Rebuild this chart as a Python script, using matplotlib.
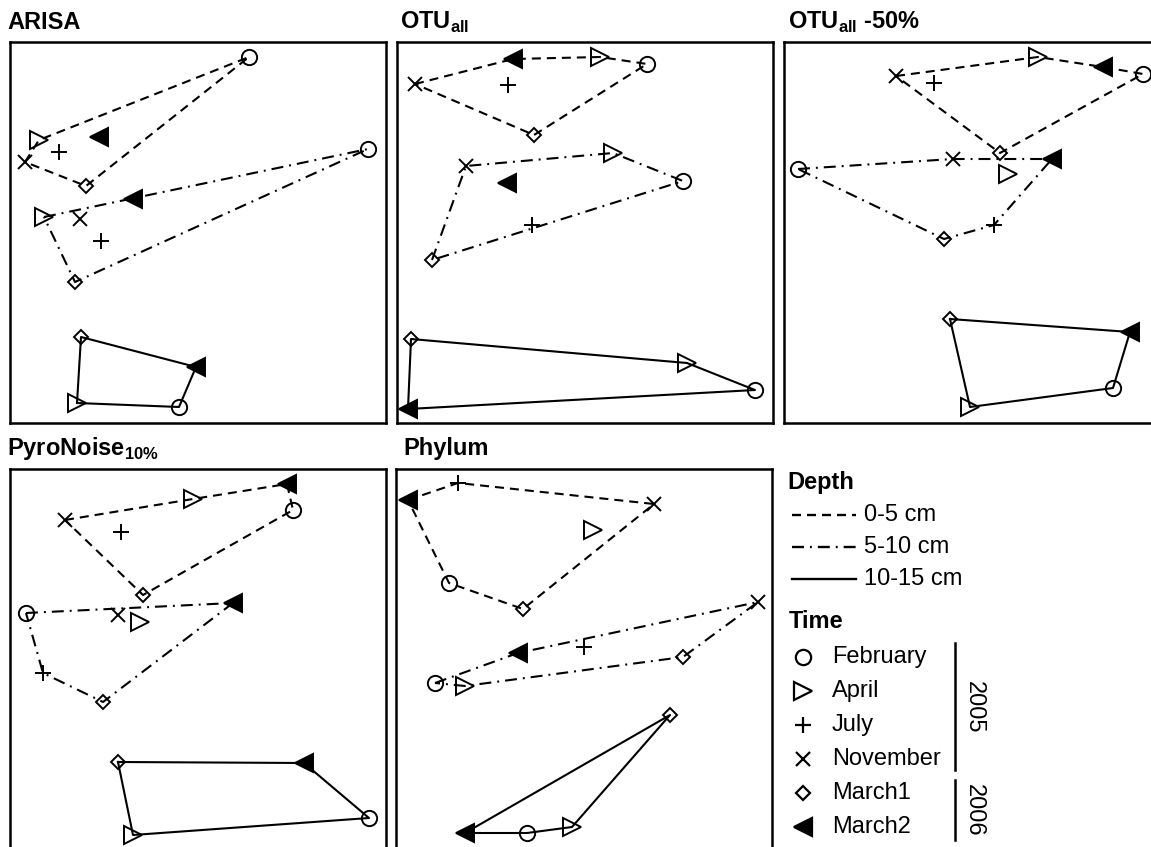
import numpy as np
import matplotlib
matplotlib.use('Agg')
import matplotlib.pyplot as plt

plt.rcParams['font.family'] = ['Liberation Sans', 'DejaVu Sans']
plt.rcParams['mathtext.fontset'] = 'custom'
plt.rcParams['mathtext.rm'] = 'Liberation Sans'
plt.rcParams['mathtext.bf'] = 'Liberation Sans:bold'
plt.rcParams['lines.scale_dashes'] = False

# sampling times, in plotting order
months = ['February', 'April', 'July', 'November', 'March1', 'March2']
nan = np.nan

# ordination scores (x right, y down, panel units)
# depth 0-5 cm (d1), 5-10 cm (d2), 10-15 cm (d3)
arisa_d1_x = [239, 29, 49, 15, 76, 89]
arisa_d1_y = [15, 98, 110, 120, 144, 95]
arisa_d2_x = [358, 34, 91, 70, 65, 123]
arisa_d2_y = [107, 175, 199, 177, 240, 157]
arisa_d3_x = [169, 67, nan, nan, 71, 186]
arisa_d3_y = [365, 361, nan, nan, 295, 325]

otu_d1_x = [250, 203, 111, 18, 137, 116]
otu_d1_y = [22, 15, 43, 42, 93, 17]
otu_d2_x = [286, 216, 135, 69, 35, 110]
otu_d2_y = [139, 111, 183, 124, 218, 141]
otu_d3_x = [358, 290, nan, nan, 14, 11]
otu_d3_y = [348, 321, nan, nan, 297, 367]

otu50_d1_x = [359, 254, 150, 112, 216, 319]
otu50_d1_y = [32, 15, 41, 34, 111, 25]
otu50_d2_x = [14, 224, 210, 169, 160, 268]
otu50_d2_y = [127, 132, 183, 117, 197, 117]
otu50_d3_x = [329, 186, nan, nan, 166, 346]
otu50_d3_y = [346, 365, nan, nan, 277, 290]

pyro_d1_x = [283, 183, 111, 55, 133, 277]
pyro_d1_y = [41, 30, 63, 51, 126, 15]
pyro_d2_x = [16, 130, 33, 108, 93, 223]
pyro_d2_y = [144, 153, 204, 146, 233, 134]
pyro_d3_x = [359, 123, nan, nan, 108, 294]
pyro_d3_y = [349, 366, nan, nan, 293, 294]

phylum_d1_x = [53, 197, 62, 258, 127, 12]
phylum_d1_y = [114, 61, 14, 35, 140, 31]
phylum_d2_x = [39, 69, 188, 362, 287, 122]
phylum_d2_y = [214, 217, 178, 133, 188, 184]
phylum_d3_x = [131, 176, nan, nan, 274, 69]
phylum_d3_y = [364, 358, nan, nan, 246, 364]

W, H = 1151, 847
PW, PH = 376, 381

# marker style per month
mstyle = {
    'February': dict(marker='o', ms=11, mfc='none'),
    'April': dict(marker='>', ms=12.5, mfc='none'),
    'July': dict(marker='+', ms=12, mfc='none'),
    'November': dict(marker='x', ms=10.5, mfc='none'),
    'March1': dict(marker='D', ms=7.5, mfc='none'),
    'March2': dict(marker='<', ms=12.5, mfc='black'),
}
dashed = (0, (6.5, 4.3))
dashdot = (0, (8.6, 4.3, 1.4, 4.3))
depth_ls = [dashed, dashdot, '-']


def hull(px, py):
    # convex hull around the points of one depth
    pts = sorted(set((a, b) for a, b in zip(px, py) if not (np.isnan(a) or np.isnan(b))))
    def cross(o, a, b):
        return (a[0]-o[0])*(b[1]-o[1]) - (a[1]-o[1])*(b[0]-o[0])
    lower, upper = [], []
    for p in pts:
        while len(lower) >= 2 and cross(lower[-2], lower[-1], p) <= 0:
            lower.pop()
        lower.append(p)
    for p in reversed(pts):
        while len(upper) >= 2 and cross(upper[-2], upper[-1], p) <= 0:
            upper.pop()
        upper.append(p)
    h = lower[:-1] + upper[:-1]
    h.append(h[0])
    return [p[0] for p in h], [p[1] for p in h]


panels = [
    ('ARISA', 10, 42, [(arisa_d1_x, arisa_d1_y), (arisa_d2_x, arisa_d2_y), (arisa_d3_x, arisa_d3_y)]),
    (r'$\mathbf{OTU}_{\mathbf{all}}$', 397, 42, [(otu_d1_x, otu_d1_y), (otu_d2_x, otu_d2_y), (otu_d3_x, otu_d3_y)]),
    (r'$\mathbf{OTU}_{\mathbf{all}}$ -50%', 784, 42, [(otu50_d1_x, otu50_d1_y), (otu50_d2_x, otu50_d2_y), (otu50_d3_x, otu50_d3_y)]),
    (r'$\mathbf{PyroNoise}_{\mathbf{10\%}}$', 10, 469, [(pyro_d1_x, pyro_d1_y), (pyro_d2_x, pyro_d2_y), (pyro_d3_x, pyro_d3_y)]),
    ('Phylum', 396, 469, [(phylum_d1_x, phylum_d1_y), (phylum_d2_x, phylum_d2_y), (phylum_d3_x, phylum_d3_y)]),
]
title_pos = [(7, 29), (400, 29), (788, 29), (7, 455), (403, 455)]

fig = plt.figure(figsize=(W/100, H/100), dpi=100)

for (title, x0, y0, depths), (tx, ty) in zip(panels, title_pos):
    ax = fig.add_axes([x0/W, 1-(y0+PH)/H, PW/W, PH/H])
    ax.set_xlim(0, PW)
    ax.set_ylim(PH, 0)
    ax.set_xticks([])
    ax.set_yticks([])
    for s in ax.spines.values():
        s.set_linewidth(1.8)
    for (dx, dy), ls in zip(depths, depth_ls):
        hx, hy = hull(dx, dy)
        ax.plot(hx, hy, color='black', lw=1.5, ls=ls, zorder=2)
        for m, a, b in zip(months, dx, dy):
            if np.isnan(a):
                continue
            ax.plot(a, b, color='black', mec='black', mew=1.4, ls='none', zorder=3, clip_on=False, **mstyle[m])
    fig.text(tx/W, 1-ty/H, title, fontsize=17, fontweight='bold', va='baseline', ha='left')

# legend panel
lg = fig.add_axes([0, 0, 1, 1])
lg.set_xlim(0, W)
lg.set_ylim(H, 0)
lg.axis('off')
lg.text(787, 483, 'Depth', fontsize=17, fontweight='bold', va='center')
depth_labels = ['0-5 cm', '5-10 cm', '10-15 cm']
for i, (lab, ls) in enumerate(zip(depth_labels, depth_ls)):
    yy = 515 + i*32
    lg.plot([792, 856], [yy, yy], color='black', lw=1.7, ls=ls)
    lg.text(864, yy, lab, fontsize=17, va='center')
lg.text(789, 621, 'Time', fontsize=17, fontweight='bold', va='center')
for i, m in enumerate(months):
    yy = 657 + i*34
    lg.plot(803, yy, color='black', mec='black', mew=1.6, ls='none', **mstyle[m])
    lg.text(832, yy, m, fontsize=17, va='center')
lg.plot([955, 955], [643, 770], color='black', lw=1.8)
lg.plot([955, 955], [780, 840], color='black', lw=1.8)
lg.text(974, 707, '2005', fontsize=17, rotation=-90, va='center', ha='center')
lg.text(974, 810, '2006', fontsize=17, rotation=-90, va='center', ha='center')

fig.savefig('out.png', dpi=100)
